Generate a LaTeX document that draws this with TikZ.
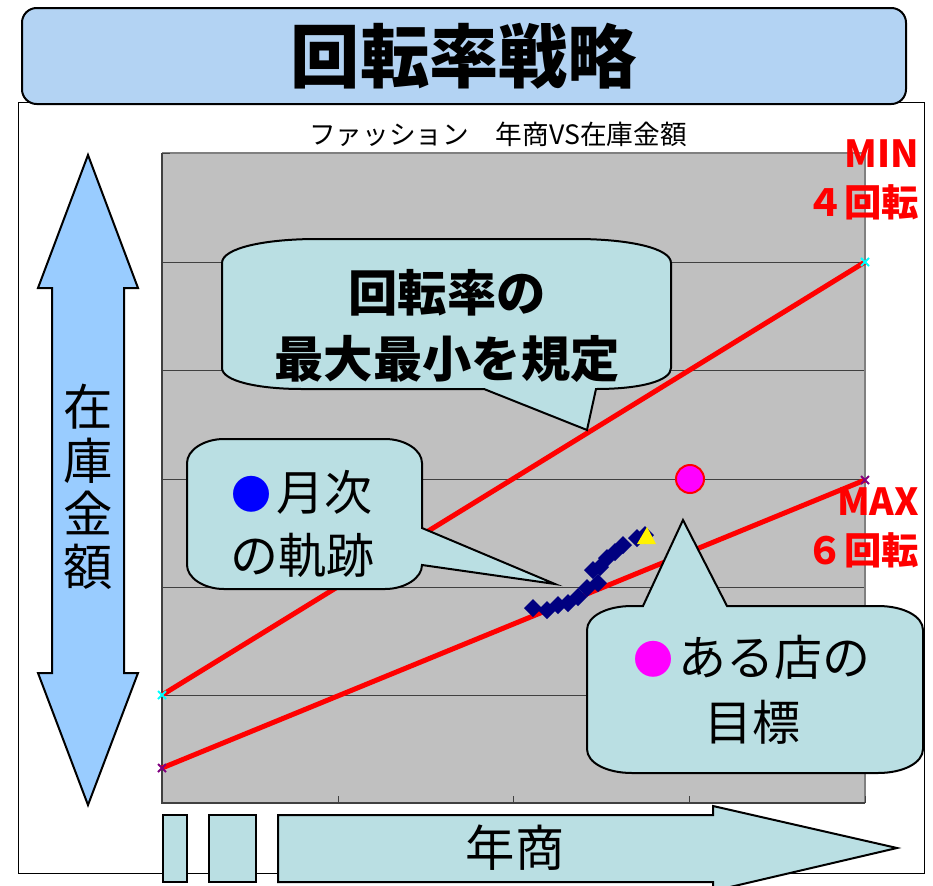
\documentclass[tikz,border=0pt]{standalone}
\usepackage{fontspec}
\setmainfont{Noto Sans CJK JP}
\usepackage{xcolor}
\newcommand\fsz[2]{\fontsize{#1}{#2}\selectfont}
\newcommand\dotmark[1]{{\color{#1}\fsz{30pt}{36pt}\raisebox{1pt}{●}}\hspace{4pt}}

\begin{document}
\begin{tikzpicture}[x=0.75pt,y=-0.75pt,
  bubble/.style={draw=black,line width=1.5pt,fill=paleteal},
  blockarrow/.style={draw=black,line width=1.5pt,line join=miter},
  redline/.style={red,line width=3.75pt},
  gridline/.style={black!75,line width=0.75pt},
  redlbl/.style={red,font=\bfseries\fsz{28pt}{37pt},align=right,inner sep=0pt}]
\useasboundingbox (0,0) rectangle (933,886);
\definecolor{skyface}{HTML}{B3D3F3}
\definecolor{paleteal}{HTML}{BADFE3}
\definecolor{arrowblue}{HTML}{99CCFF}
\definecolor{plotgray}{HTML}{C0C0C0}
\definecolor{navyblue}{HTML}{000080}
\definecolor{trackblue}{HTML}{0000FF}
\definecolor{shoppink}{HTML}{FF00FF}
\definecolor{minmark}{HTML}{00FFFF}
\definecolor{maxmark}{HTML}{800080}

% chart frame and title
\draw[line width=0.75pt] (18,102) rectangle (924,873);
\node (title) [draw=black,line width=1.5pt,fill=skyface,rounded corners=11pt,
  minimum width=663pt,minimum height=72pt,font=\bfseries\fsz{52pt}{60pt}]
  at (464,56) {回転率戦略};
\node (charttitle) at (498,134) {\fsz{20pt}{24pt}ファッション　年商VS在庫金額};

% plot area
\fill[plotgray] (162,153) rectangle (865,803);
\foreach \gy in {262,370,479,587,695}
  {  \draw[gridline] (162,\gy) -- (865,\gy);}
\draw[black!50,line width=1.5pt] (162,153) -- (865,153) -- (865,803);
\draw[black!75,line width=1.5pt] (162,153) -- (162,803) -- (865,803);
\foreach \gy in {153,262,370,479,587,695,803}
  {  \draw[gridline] (162,\gy) -- (170,\gy);}
\foreach \tx in {338,513,689,865}
  {  \draw[gridline] (\tx,803) -- (\tx,796);}

% min / max lines
\coordinate (min0) at (162,695);
\coordinate (min1) at (865,262);
\coordinate (max0) at (162,768);
\coordinate (max1) at (865,480);
\draw[redline] (min0) -- (min1);
\draw[redline] (max0) -- (max1);
\foreach \p/\crlr in {min0/minmark,min1/minmark,max0/maxmark,max1/maxmark}
  {  \draw[\crlr,line width=1.5pt] (\p) +(-4,-4) -- +(4,4) +(-4,4) -- +(4,-4);}

% monthly track
\foreach \dx/\dy in {533/608,547/610,558/605,568/603,578/597,587/588,598/583,
    593/570,600/567,607/558,615/552,623/545,637/538,645/535}
  {  \fill[navyblue] (\dx,\dy) +(0,-9) -- +(9,0) -- +(0,9) -- +(-9,0) -- cycle;}
\fill[yellow] (637,544) -- (656,544) -- (647,527) -- cycle;
\node (target) [circle,fill=shoppink,draw=red,line width=1.5pt,minimum size=21pt,inner sep=0pt]
  at (690,479) {};

% callouts
\draw[bubble] (222,263) .. controls (222,248) and (265,239) .. (317,239) -- (576,239)
  .. controls (628,239) and (671,248) .. (671,263) -- (671,368)
  .. controls (671,381) and (640,389) .. (596,389) -- (587,430) -- (484,389) -- (302,389)
  .. controls (258,389) and (222,381) .. (222,368) -- cycle;
\node (note1) [align=center,font=\bfseries\fsz{37pt}{50pt}] at (447,326) {回転率の\\最大最小を規定};

\draw[bubble] (187,463) .. controls (187,450) and (204,439) .. (224,439) -- (385,439)
  .. controls (405,439) and (422,450) .. (422,463) -- (422,528) -- (555,584) -- (422,565)
  .. controls (422,578) and (405,589) .. (385,589) -- (224,589)
  .. controls (204,589) and (187,578) .. (187,565) -- cycle;
\node (note2) [align=center,font=\fsz{36pt}{47pt}] at (302,524) {\dotmark{trackblue}月次\\の軌跡};

\draw[bubble] (587,630) .. controls (587,616) and (607,606) .. (632,606) -- (643,606)
  -- (683,520) -- (727,606) -- (878,606) .. controls (903,606) and (923,616) .. (923,630)
  -- (923,749) .. controls (923,763) and (903,773) .. (878,773) -- (632,773)
  .. controls (607,773) and (587,763) .. (587,749) -- cycle;
\node (note3) [align=center,font=\fsz{36pt}{49pt}] at (752,690) {\dotmark{shoppink}ある店の\\目標};

% turnover labels
\node (minlbl) [redlbl,anchor=east] at (919,180) {MIN\\４回転};
\node (maxlbl) [redlbl,anchor=east] at (919,528) {MAX\\６回転};

% axis arrows
\draw[blockarrow,fill=arrowblue] (88,155) -- (138,288) -- (124,288) -- (124,673) -- (138,673)
  -- (88,805) -- (38,673) -- (52,673) -- (52,288) -- (38,288) -- cycle;
\node (stocklbl) [align=center,font=\fsz{37pt}{40pt}] at (88,487) {在\\庫\\金\\額};

\draw[blockarrow,fill=paleteal] (163,815) rectangle (187,882);
\draw[blockarrow,fill=paleteal] (209,815) rectangle (256,882);
\draw[blockarrow,fill=paleteal] (278,815) -- (713,815) -- (713,806) -- (897,848)
  -- (713,891) -- (713,882) -- (278,882) -- cycle;
\node (saleslbl) [font=\fsz{37pt}{40pt}] at (515,848) {年商};
\end{tikzpicture}
\end{document}
